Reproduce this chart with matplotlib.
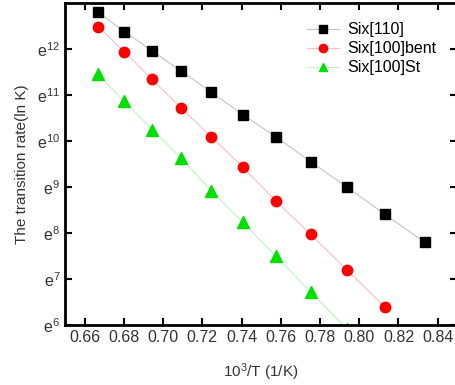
import numpy as np
import matplotlib
matplotlib.use("Agg")
import matplotlib.pyplot as plt
import matplotlib.ticker as ticker

plt.rcParams['font.family'] = ['Liberation Sans', 'DejaVu Sans']

# 10^3/T values (1/K)
inv_t = [0.6667, 0.6803, 0.6944, 0.7092, 0.7246, 0.7407, 0.7576, 0.7752, 0.7937, 0.8130, 0.8333]

# ln K
ln_k_110 = [12.80, 12.38, 11.96, 11.52, 11.06, 10.57, 10.09, 9.55, 9.00, 8.41, 7.80]
ln_k_bent = [12.49, 11.94, 11.34, 10.72, 10.09, 9.43, 8.69, 7.97, 7.20, 6.39]
ln_k_st = [11.45, 10.86, 10.25, 9.63, 8.92, 8.23, 7.49, 6.72, 5.92]

labels = ['Six[110]', 'Six[100]bent', 'Six[100]St']
y_ticks = [6, 7, 8, 9, 10, 11, 12]
x_ticks = [0.66, 0.68, 0.70, 0.72, 0.74, 0.76, 0.78, 0.80, 0.82, 0.84]

fig = plt.figure(figsize=(4.55, 3.85), dpi=100)
ax = fig.add_axes([0.143, 0.156, 0.862, 0.836])

ax.plot(inv_t[:len(ln_k_110)], ln_k_110, color='#c4c4c4', lw=0.8,
        marker='s', ms=6.5, mfc='black', mec='black', label=labels[0])
ax.plot(inv_t[:len(ln_k_bent)], ln_k_bent, color='#f8c0c0', lw=0.8,
        marker='o', ms=7.5, mfc='red', mec='red', label=labels[1])
ax.plot(inv_t[:len(ln_k_st)], ln_k_st, color='#c0f4c0', lw=0.8,
        marker='^', ms=8, mfc='#00e000', mec='#00e000', label=labels[2])

ax.set_xlim(0.65, 0.85)
ax.set_ylim(6, 13)
ax.set_xticks(x_ticks)
ax.xaxis.set_major_formatter(ticker.FormatStrFormatter('%.2f'))
ax.set_yticks(y_ticks)
ax.set_yticklabels([r'$\mathregular{e^{%d}}$' % v for v in y_ticks])

ax.tick_params(direction='in', length=5, width=1.5, top=True, right=True,
               labelsize=11.5, labelcolor='#333333')
for sp in ax.spines.values():
    sp.set_linewidth(2)

ax.set_xlabel(r'$\mathregular{10^3}$/T (1/K)', fontsize=11, color='#333333', labelpad=12)
ax.set_ylabel('The transition rate(ln K)', fontsize=11, color='#333333', labelpad=6)

ax.legend(loc='upper right', frameon=False, fontsize=11.5, bbox_to_anchor=(0.975, 0.975),
          handlelength=2.0, handletextpad=0.5, labelspacing=0.25, markerscale=0.8,
          borderaxespad=0.3)

fig.savefig('out.png', dpi=100)
